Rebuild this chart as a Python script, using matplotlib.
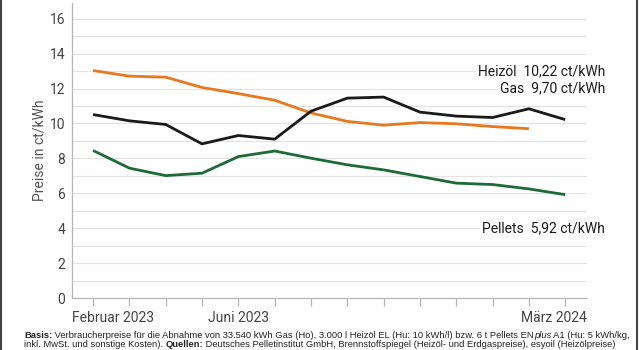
import matplotlib
matplotlib.use("Agg")
import matplotlib.pyplot as plt
from matplotlib.lines import Line2D
from matplotlib.font_manager import FontProperties
from matplotlib.transforms import blended_transform_factory

# Monthly prices in ct/kWh, Feb 2023 .. Mar 2024
months = list(range(14))
heizoel = [10.51, 10.15, 9.94, 8.83, 9.31, 9.10, 10.70, 11.45, 11.51, 10.65, 10.42, 10.34, 10.84, 10.22]
gas = [13.03, 12.71, 12.65, 12.06, 11.71, 11.33, 10.60, 10.12, 9.90, 10.05, 9.98, 9.82, 9.70]
pellets = [8.45, 7.44, 7.01, 7.15, 8.10, 8.42, 8.01, 7.63, 7.34, 6.96, 6.58, 6.50, 6.25, 5.92]

tick_labels = {0: "Februar 2023", 4: "Juni 2023", 13: "März 2024"}
end_labels = [("Heizöl", "10,22 ct/kWh", 13.0), ("Gas", "9,70 ct/kWh", 12.0), ("Pellets", "5,92 ct/kWh", 4.0)]

ORANGE = "#e8781e"
GREEN = "#1c6b36"
BLACK = "#1a1a1a"
GRID = "#e4e4e4"
SPINE = "#b5b5b5"
TEXT = "#444444"
FONT = ["Roboto", "DejaVu Sans"]
NARROW = ["Liberation Sans Narrow", "Liberation Sans", "DejaVu Sans"]

plt.rcParams["font.family"] = FONT

fig = plt.figure(figsize=(6.4, 3.5), dpi=100)
ax = fig.add_axes([72 / 640, 1 - 298 / 350, (587 - 72) / 640, (298 - 3) / 350])

# grid every unit, labels every second unit
for v in range(1, 17):
    ax.axhline(v, color=GRID, lw=0.9, zorder=0)

ax.plot(months[:len(gas)], gas, color=ORANGE, lw=2.0, solid_capstyle="butt", zorder=3)
ax.plot(months, heizoel, color=BLACK, lw=2.0, solid_capstyle="butt", zorder=4)
ax.plot(months, pellets, color=GREEN, lw=2.0, solid_capstyle="butt", zorder=3)

ax.set_xlim(-0.58, 13.6)
ax.set_ylim(0, 16.9)
ax.set_yticks(range(0, 17, 2))
ax.set_xticks(months)
ax.set_xticklabels([])
ax.tick_params(axis="y", length=0, pad=5, labelsize=10, labelcolor=TEXT)
ax.tick_params(axis="x", direction="out", length=6, width=0.9, color=SPINE)
for s in ["top", "right"]:
    ax.spines[s].set_visible(False)
for s in ["left", "bottom"]:
    ax.spines[s].set_color(SPINE)
    ax.spines[s].set_linewidth(0.9)
ax.set_ylabel("Preise in ct/kWh", fontsize=10, color="#555555", labelpad=2)

# x tick labels, first and last kept inside the axis width
tr = blended_transform_factory(ax.transData, fig.transFigure)
tra = blended_transform_factory(ax.transAxes, fig.transFigure)
ty = 1 - 318 / 350
for m, lab in tick_labels.items():
    if m == 0:
        ax.text(0, ty, lab, transform=tra, ha="left", va="center", fontsize=10, color=TEXT)
    elif m == months[-1]:
        ax.text(1, ty, lab, transform=tra, ha="right", va="center", fontsize=10, color=TEXT)
    else:
        ax.text(m, ty, lab, transform=tr, ha="center", va="center", fontsize=10, color=TEXT)

# end labels with white boxes over the grid
xr = blended_transform_factory(fig.transFigure, ax.transData)
for name, val, yv in end_labels:
    ax.text(605 / 640, yv, name + "  " + val, transform=xr, ha="right", va="center",
            fontsize=10, color=BLACK, clip_on=False, zorder=5,
            bbox=dict(facecolor="white", edgecolor="none", pad=1.5))

# frame lines left and right
fig.add_artist(Line2D([1 / 640, 1 / 640], [0, 1], color="#444444", lw=1.5))
fig.add_artist(Line2D([637 / 640, 637 / 640], [0, 1], color="#444444", lw=1.5))

# footer with bold and italic runs
renderer = fig.canvas.get_renderer()
line1 = [("Basis:", "bold", "normal"),
         (" Verbraucherpreise für die Abnahme von 33.540 kWh Gas (Ho), 3.000 l Heizöl EL (Hu: 10 kWh/l) bzw. 6 t Pellets EN", "normal", "normal"),
         ("plus", "normal", "italic"),
         (" A1 (Hu: 5 kWh/kg,", "normal", "normal")]
line2 = [("inkl. MwSt. und sonstige Kosten). ", "normal", "normal"),
         ("Quellen:", "bold", "normal"),
         (" Deutsches Pelletinstitut GmbH, Brennstoffspiegel (Heizöl- und Erdgaspreise), esyoil (Heizölpreise)", "normal", "normal")]


def run_width(runs, size):
    w = 0
    for txt, weight, style in runs:
        fp = FontProperties(family=NARROW, size=size, weight=weight, style=style)
        w += renderer.get_text_width_height_descent(txt.replace(" ", "\u00a0"), fp, ismath=False)[0]
    return w


size = 7.0
size = size * 604 / run_width(line1, size)


def draw_runs(runs, y):
    x = 24
    for txt, weight, style in runs:
        fp = FontProperties(family=NARROW, size=size, weight=weight, style=style)
        t = fig.text(x / 640, 1 - y / 350, txt, fontproperties=fp, ha="left", va="center", color="#222222")
        x += t.get_window_extent(renderer).width


draw_runs(line1, 335.5)
draw_runs(line2, 344.5)

fig.savefig("out.png", dpi=100)
